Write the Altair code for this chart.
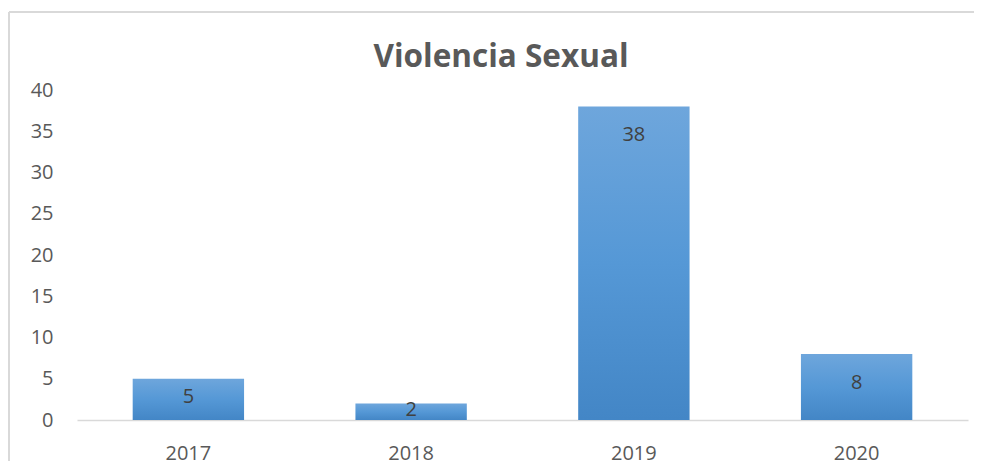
import altair as alt
import pandas as pd

years = ["2017", "2018", "2019", "2020"]
values = [5, 2, 38, 8]
y_ticks = [0, 5, 10, 15, 20, 25, 30, 35, 40]
title_text = "Violencia Sexual"

df = pd.DataFrame({"year": years, "v": values})

FONT = "Open Sans"
GRID = "#d9d9d9"

x_enc = alt.X("year:N", sort=years, title=None,
              scale=alt.Scale(paddingInner=0.5, paddingOuter=0.25),
              axis=alt.Axis(labelAngle=0, domainColor=GRID, domainWidth=1.5,
                            ticks=False, tickSize=0, labelPadding=33,
                            labelBaseline="middle", labelFontSize=20,
                            labelColor="#595959", labelFont=FONT))
y_scale = alt.Scale(domain=[0, 40], nice=False)

gradient = alt.Gradient(
    gradient="linear",
    stops=[alt.GradientStop(color="#6EA6DC", offset=0),
           alt.GradientStop(color="#5598D6", offset=0.5),
           alt.GradientStop(color="#4386C6", offset=1)],
    x1=0, x2=0, y1=0, y2=1)

shadow = alt.Chart(df).mark_bar(color="#000000", opacity=0.0, stroke="#000000",
                                strokeOpacity=0.18, strokeWidth=4).encode(
    x=x_enc,
    y=alt.Y("v:Q", scale=y_scale, title=None,
            axis=alt.Axis(values=y_ticks, grid=False, domain=False, ticks=False,
                          tickSize=0, labelPadding=24, labelFontSize=20,
                          labelColor="#595959", labelFont=FONT)),
)

bars = alt.Chart(df).mark_bar(color=gradient).encode(
    x=x_enc,
    y=alt.Y("v:Q", scale=y_scale, title=None),
)

labels = alt.Chart(df).transform_calculate(
    ly="max(datum.v - 3.5, datum.v / 2 + 0.25)"
).mark_text(font=FONT, fontSize=20, color="#404040", baseline="middle").encode(
    x=x_enc,
    y=alt.Y("ly:Q", scale=y_scale, title=None),
    text=alt.Text("v:Q"),
)

title = alt.Chart(pd.DataFrame({"t": [title_text]})).mark_text(
    font=FONT, fontSize=31.5, fontWeight="bold", color="#595959",
    align="center", baseline="alphabetic").encode(
    x=alt.value(424), y=alt.value(-23), text="t:N")

frame_v = alt.Chart(df).mark_rule(color=GRID, strokeWidth=1.5).encode(
    x=alt.value(-68), y=alt.value(-78), y2=alt.value(400))
frame_h = alt.Chart(df).mark_rule(color=GRID, strokeWidth=1.5).encode(
    x=alt.value(-68), x2=alt.value(1000), y=alt.value(-78))

chart = alt.layer(frame_v, frame_h, shadow, bars, labels, title).properties(
    width=891, height=330,
    autosize=alt.AutoSizeParams(type="none"),
    padding={"left": 69, "top": 82, "right": 6, "bottom": 41},
).configure(background="white").configure_view(stroke=None)

chart.save("out.html", embed_options={"renderer": "svg", "actions": False})
